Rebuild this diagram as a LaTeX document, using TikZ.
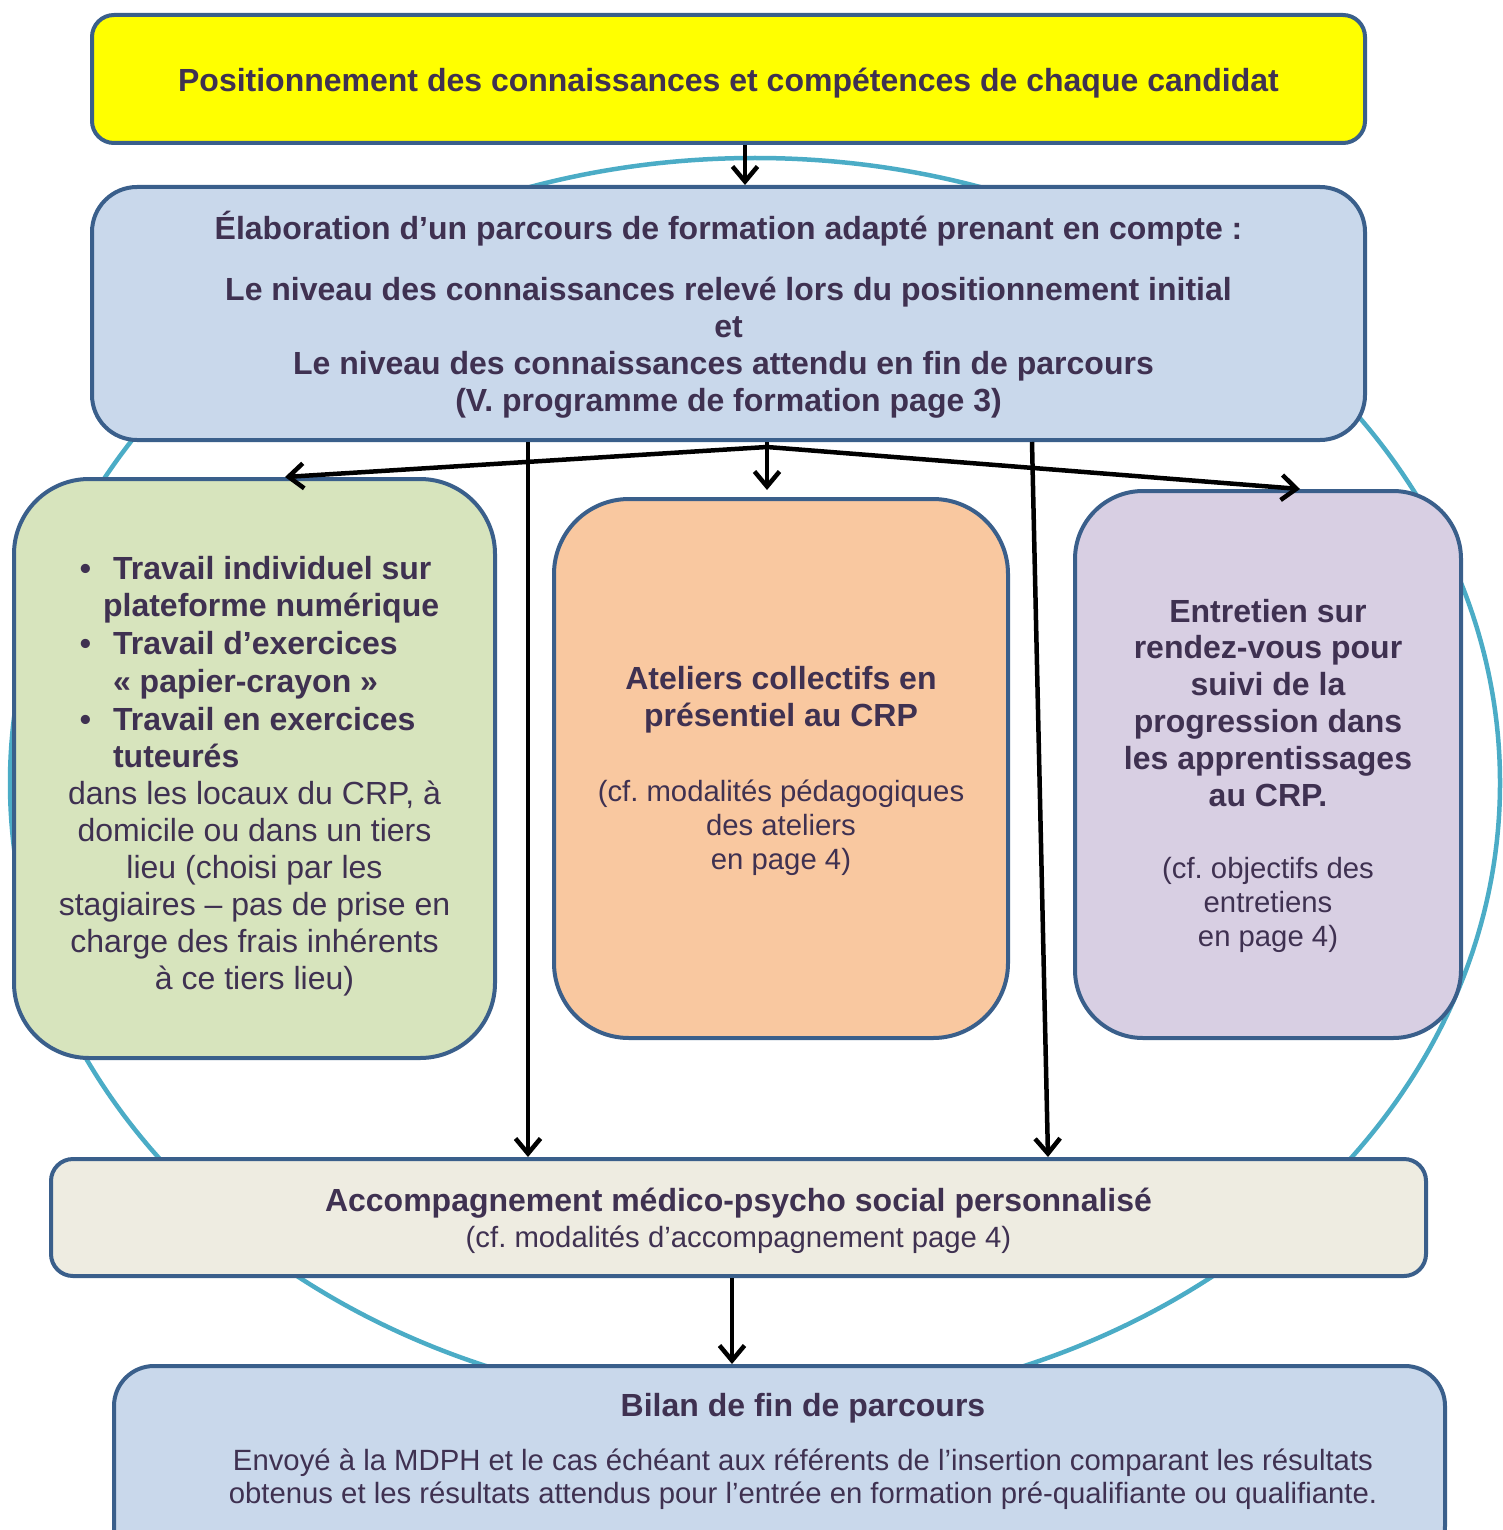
\documentclass[tikz,border=0pt]{standalone}
\usepackage{fontspec}
\setmainfont{Liberation Sans}
\usetikzlibrary{arrows.meta}
\definecolor{bordc}{HTML}{3A5F8B}
\definecolor{txtc}{HTML}{3F3151}
\definecolor{ellc}{HTML}{4BACC6}
\definecolor{yel}{HTML}{FFFF00}
\definecolor{lblue}{HTML}{C9D8EB}
\definecolor{lgreen}{HTML}{D7E4BD}
\definecolor{lorange}{HTML}{F9C8A0}
\definecolor{lpurple}{HTML}{D8CFE3}
\definecolor{lbeige}{HTML}{EEECE1}
\frenchspacing
\begin{document}
\begin{tikzpicture}[x=1pt,y=-1pt,
  box/.style={draw=bordc, line width=4pt, inner sep=0pt},
  txt/.style={text=txtc, align=center, inner sep=0pt},
  arr/.style={draw=black, line width=4.5pt, -{Straight Barb[length=15pt,width=25pt]}},
  bigb/.style={font=\fontsize{32}{37}\selectfont\bfseries},
  bigr/.style={font=\fontsize{32}{37}\selectfont},
  smr/.style={font=\fontsize{29.3}{34}\selectfont}]
\useasboundingbox (0,0) rectangle (1502,1530);
% background ellipse
\draw[ellc, line width=4.5pt] (755,783) ellipse [x radius=745pt, y radius=625pt];
% boxes
\node[box, fill=yel, rounded corners=22pt, minimum width=1273pt, minimum height=128pt] (pos) at (728.5,79) {};
\node[box, fill=lblue, rounded corners=45pt, minimum width=1273pt, minimum height=253pt] (elab) at (728.5,313.5) {};
\node[box, fill=lgreen, rounded corners=75pt, minimum width=481pt, minimum height=579pt] (green) at (254.5,768.5) {};
\node[box, fill=lorange, rounded corners=75pt, minimum width=454pt, minimum height=539pt] (orange) at (781,768.5) {};
\node[box, fill=lpurple, rounded corners=68pt, minimum width=386pt, minimum height=547pt] (purple) at (1268,764.5) {};
\node[box, fill=lbeige, rounded corners=22pt, minimum width=1375pt, minimum height=117pt] (acc) at (738.5,1217.5) {};
\node[box, fill=lblue, rounded corners=40pt, minimum width=1331pt, minimum height=200pt] (bilan) at (779.5,1466) {};
% texts
\node[txt, bigb] (posT) at (728.5,83)
  {Positionnement des connaissances et compétences de chaque candidat};
\node[txt, bigb] (elabT) at (728.5,314.5)
  {Élaboration d’un parcours de formation adapté prenant en compte :\\[24pt]
   Le niveau des connaissances relevé lors du positionnement initial\\
   et\\
   \hspace*{-10pt}Le niveau des connaissances attendu en fin de parcours\\
   (V. programme de formation page 3)};
\node[txt, bigr] (greenT) at (254.5,774.5)
  {\hspace{10pt}{\bfseries\renewcommand\arraystretch{1.02}\begin{tabular}{@{}c@{\hspace{22pt}}l@{}}
   \textbullet & Travail individuel sur\\
   & \hspace{-10pt}plateforme numérique\\
   \textbullet & Travail d’exercices\\
   & « papier-crayon »\\
   \textbullet & Travail en exercices\\
   & tuteurés
   \end{tabular}}\\[1pt]
   dans les locaux du CRP, à\\
   domicile ou dans un tiers\\
   lieu (choisi par les\\
   stagiaires – pas de prise en\\
   charge des frais inhérents\\
   à ce tiers lieu)};
\node[txt, smr] (orangeT) at (781,771)
  {{\fontsize{32}{37}\selectfont\bfseries Ateliers collectifs en}\\[3pt]
   {\fontsize{32}{37}\selectfont\bfseries présentiel au CRP}\\[41pt]
   (cf. modalités pédagogiques\\
   des ateliers\\
   en page 4)};
\node[txt, smr] (purpleT) at (1268,775.5)
  {{\fontsize{32}{37}\selectfont\bfseries Entretien sur}\\[2.8pt]
   {\fontsize{32}{37}\selectfont\bfseries rendez-vous pour}\\[2.8pt]
   {\fontsize{32}{37}\selectfont\bfseries suivi de la}\\[2.8pt]
   {\fontsize{32}{37}\selectfont\bfseries progression dans}\\[2.8pt]
   {\fontsize{32}{37}\selectfont\bfseries les apprentissages}\\[2.8pt]
   {\fontsize{32}{37}\selectfont\bfseries au CRP.}\\[38pt]
   (cf. objectifs des\\
   entretiens\\
   en page 4)};
\node[txt, smr] (accT) at (738.5,1221)
  {{\fontsize{32}{37}\selectfont\bfseries Accompagnement médico-psycho social personnalisé}\\[2pt]
   (cf. modalités d’accompagnement page 4)};
\node[txt, font=\fontsize{29.3}{33}\selectfont] (bilanT) at (803,1451)
  {{\fontsize{32}{37}\selectfont\bfseries Bilan de fin de parcours}\\[21pt]
   Envoyé à la MDPH et le cas échéant aux référents de l’insertion comparant les résultats\\
   obtenus et les résultats attendus pour l’entrée en formation pré-qualifiante ou qualifiante.};
% connectors
\coordinate (br) at (767,447);
\draw[arr] ([xshift=16.5pt]pos.south) -- ([xshift=16.5pt]elab.north);
\draw[line width=4.5pt] ([xshift=38.5pt]elab.south) -- (br);
\draw[arr] (br) -- ([xshift=30.5pt]green.north);
\draw[arr] (br) -- ([xshift=-14pt,yshift=7pt]orange.north);
\draw[arr] (br) -- ([xshift=32pt]purple.north);
\draw[arr] ([xshift=-200.5pt]elab.south) -- ([xshift=-210.5pt]acc.north);
\draw[arr] ([xshift=303.5pt]elab.south) -- ([xshift=309.5pt]acc.north);
\draw[arr] ([xshift=-6.5pt]acc.south) -- ([xshift=-47.5pt]bilan.north);
\end{tikzpicture}
\end{document}
